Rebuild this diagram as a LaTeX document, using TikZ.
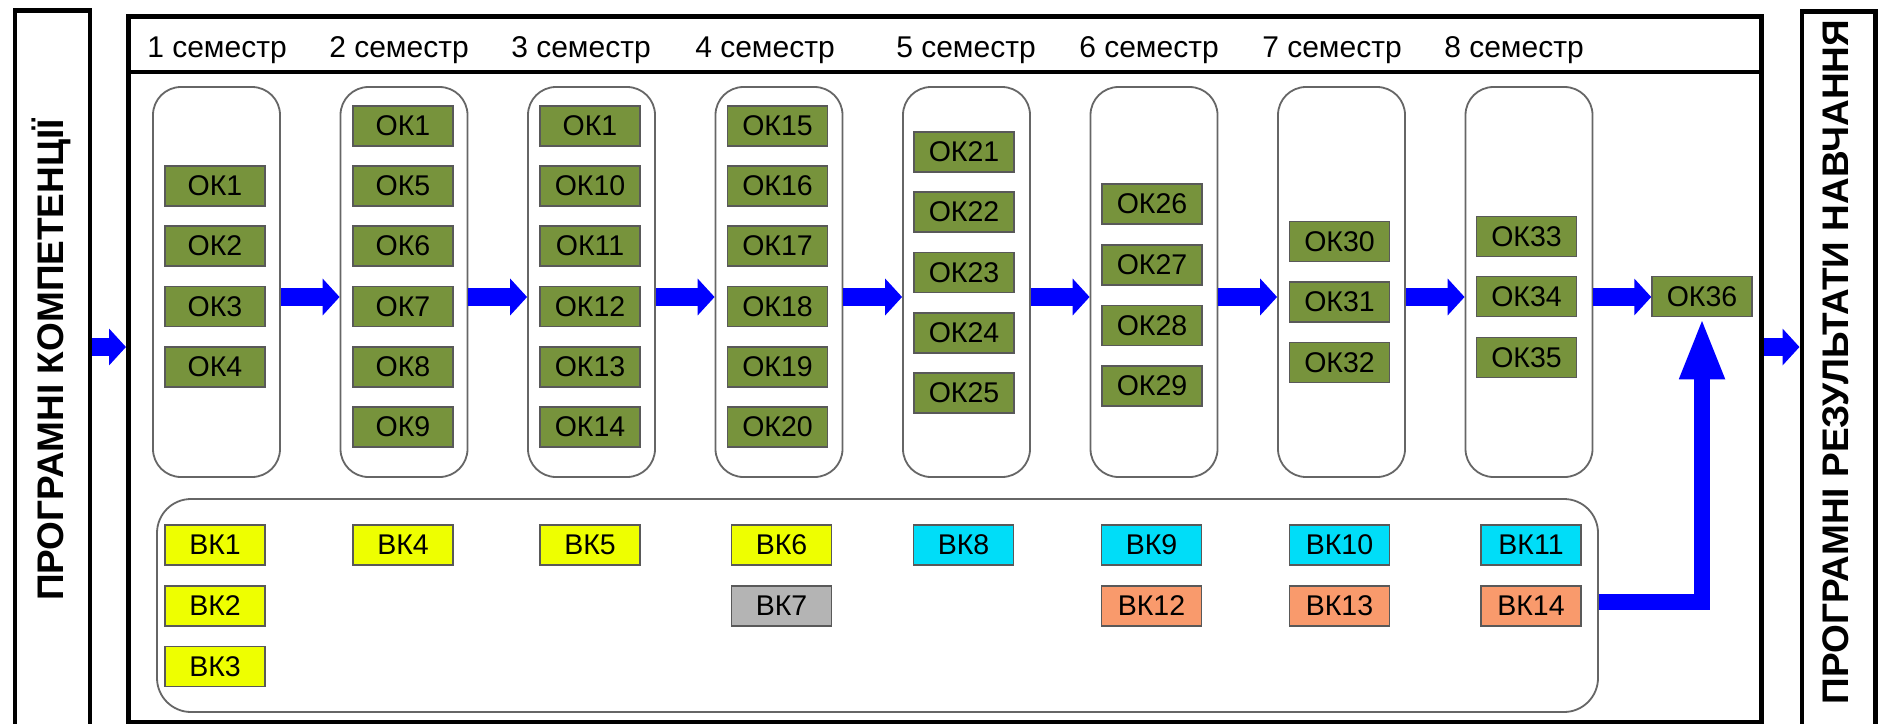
\documentclass[tikz,border=0pt]{standalone}
\usepackage{fontspec}
\setmainfont{Liberation Sans}
\usetikzlibrary{arrows.meta}
\definecolor{okgreen}{HTML}{77933C}
\definecolor{vkyellow}{HTML}{EEFF00}
\definecolor{vkcyan}{HTML}{00DDF8}
\definecolor{vkorange}{HTML}{F99A6C}
\definecolor{vkgrey}{HTML}{B4B4B4}
\definecolor{blockblue}{HTML}{0000FF}
\begin{document}
\begin{tikzpicture}[x=1pt,y=-1pt,
  okbox/.style={draw=black!65, line width=1.5pt, fill=okgreen, minimum width=100pt, minimum height=40pt, inner sep=0pt, font=\fontsize{28.5}{28.5}\selectfont},
  vkbox/.style={okbox, fill=#1},
  sembox/.style={draw=black!60, line width=1.8pt, rounded corners=28pt, minimum width=127pt, minimum height=390pt, inner sep=0pt},
  hdr/.style={font=\fontsize{30}{30}\selectfont, anchor=base},
  thickframe/.style={draw=black, line width=4.5pt, inner sep=0pt, anchor=north west},
  sidetext/.style={font=\bfseries\fontsize{37}{37}\selectfont, rotate=90},
  blockarrow/.style={draw=blockblue, line width=18pt, -{Triangle[length=17pt,width=36pt]}},
]
\useasboundingbox (0,0) rectangle (1879,723);
\clip (0,0) rectangle (1879,723);
\fill[white] (0,0) rectangle (1879,723);

% frames
\node[thickframe, minimum width=75pt, minimum height=740pt] (lbox) at (12.5,8) {};
\node[thickframe, minimum width=1633pt, minimum height=706pt] (main) at (126,14) {};
\node[thickframe, minimum width=73.5pt, minimum height=740pt] (rbox) at (1799.5,9) {};
\coordinate (sepy) at (0,72);
\draw[line width=4pt] (main.west |- sepy) -- (main.east |- sepy);

\node[sidetext] (ltext) at (51,360) {ПРОГРАМНІ КОМПЕТЕНЦІЇ};
\node[sidetext] (rtext) at (1836,362) {ПРОГРАМНІ РЕЗУЛЬТАТИ НАВЧАННЯ};

% headers
\node[hdr] (h1) at (217,57) {1 семестр};
\node[hdr] (h2) at (399,57) {2 семестр};
\node[hdr] (h3) at (581,57) {3 семестр};
\node[hdr] (h4) at (765,57) {4 семестр};
\node[hdr] (h5) at (966,57) {5 семестр};
\node[hdr] (h6) at (1149,57) {6 семестр};
\node[hdr] (h7) at (1332,57) {7 семестр};
\node[hdr] (h8) at (1514,57) {8 семестр};

% semester boxes
\node[sembox] (s1) at (216.5,282) {};
\node[sembox] (s2) at (404,282) {};
\node[sembox] (s3) at (591.5,282) {};
\node[sembox] (s4) at (779,282) {};
\node[sembox] (s5) at (966.5,282) {};
\node[sembox] (s6) at (1154,282) {};
\node[sembox] (s7) at (1341.5,282) {};
\node[sembox] (s8) at (1529,282) {};

% OK boxes
\node[okbox] (c1r1) at (215,186) {ОК1};
\node[okbox] (c1r2) at (215,246) {ОК2};
\node[okbox] (c1r3) at (215,306.5) {ОК3};
\node[okbox] (c1r4) at (215,367) {ОК4};

\node[okbox] (c2r1) at (403,126) {ОК1};
\node[okbox] (c2r2) at (403,186) {ОК5};
\node[okbox] (c2r3) at (403,246) {ОК6};
\node[okbox] (c2r4) at (403,306.5) {ОК7};
\node[okbox] (c2r5) at (403,367) {ОК8};
\node[okbox] (c2r6) at (403,427) {ОК9};

\node[okbox] (c3r1) at (590,126) {ОК1};
\node[okbox] (c3r2) at (590,186) {ОК10};
\node[okbox] (c3r3) at (590,246) {ОК11};
\node[okbox] (c3r4) at (590,306.5) {ОК12};
\node[okbox] (c3r5) at (590,367) {ОК13};
\node[okbox] (c3r6) at (590,427) {ОК14};

\node[okbox] (c4r1) at (777.5,126) {ОК15};
\node[okbox] (c4r2) at (777.5,186) {ОК16};
\node[okbox] (c4r3) at (777.5,246) {ОК17};
\node[okbox] (c4r4) at (777.5,306.5) {ОК18};
\node[okbox] (c4r5) at (777.5,367) {ОК19};
\node[okbox] (c4r6) at (777.5,427) {ОК20};

\node[okbox] (c5r1) at (964,152) {ОК21};
\node[okbox] (c5r2) at (964,212) {ОК22};
\node[okbox] (c5r3) at (964,272.5) {ОК23};
\node[okbox] (c5r4) at (964,333) {ОК24};
\node[okbox] (c5r5) at (964,393) {ОК25};

\node[okbox] (c6r1) at (1152,204) {ОК26};
\node[okbox] (c6r2) at (1152,265) {ОК27};
\node[okbox] (c6r3) at (1152,325.5) {ОК28};
\node[okbox] (c6r4) at (1152,386) {ОК29};

\node[okbox] (c7r1) at (1339.5,241.5) {ОК30};
\node[okbox] (c7r2) at (1339.5,302) {ОК31};
\node[okbox] (c7r3) at (1339.5,362.5) {ОК32};

\node[okbox] (c8r1) at (1526.5,236.5) {ОК33};
\node[okbox] (c8r2) at (1526.5,296.5) {ОК34};
\node[okbox] (c8r3) at (1526.5,357.5) {ОК35};

\node[okbox] (ok36) at (1702,296.5) {ОК36};

% elective block
\node[sembox, minimum width=1441pt, minimum height=213pt, rounded corners=34pt] (vk) at (877.5,605.5) {};

\node[vkbox=vkyellow] (vk1) at (215,545) {ВК1};
\node[vkbox=vkyellow] (vk2) at (215,606) {ВК2};
\node[vkbox=vkyellow] (vk3) at (215,666.5) {ВК3};
\node[vkbox=vkyellow] (vk4) at (403,545) {ВК4};
\node[vkbox=vkyellow] (vk5) at (590,545) {ВК5};
\node[vkbox=vkyellow] (vk6) at (781.5,545) {ВК6};
\node[vkbox=vkgrey] (vk7) at (781.5,606) {ВК7};
\node[vkbox=vkcyan] (vk8) at (963.5,545) {ВК8};
\node[vkbox=vkcyan] (vk9) at (1151.5,545) {ВК9};
\node[vkbox=vkorange] (vk12) at (1151.5,606) {ВК12};
\node[vkbox=vkcyan] (vk10) at (1339.5,545) {ВК10};
\node[vkbox=vkorange] (vk13) at (1339.5,606) {ВК13};
\node[vkbox=vkcyan] (vk11) at (1531,545) {ВК11};
\node[vkbox=vkorange] (vk14) at (1531,606) {ВК14};

% arrows
\coordinate (ay) at (0,297);
\coordinate (ayside) at (0,347);
\draw[blockarrow] (lbox.east |- ayside) -- (main.west |- ayside);
\draw[blockarrow] (main.east |- ayside) -- (rbox.west |- ayside);
\draw[blockarrow] (s1.east |- ay) -- (s2.west |- ay);
\draw[blockarrow] (s2.east |- ay) -- (s3.west |- ay);
\draw[blockarrow] (s3.east |- ay) -- (s4.west |- ay);
\draw[blockarrow] (s4.east |- ay) -- (s5.west |- ay);
\draw[blockarrow] (s5.east |- ay) -- (s6.west |- ay);
\draw[blockarrow] (s6.east |- ay) -- (s7.west |- ay);
\draw[blockarrow] (s7.east |- ay) -- (s8.west |- ay);
\draw[blockarrow] (s8.east |- ay) -- (ok36.west |- ay);

\coordinate (j) at (1702,602);
\draw[draw=blockblue, line width=16pt, line join=miter, -{Triangle[length=62pt,width=41pt]}] (vk.east |- j) -- (j) -- (ok36.south);
\end{tikzpicture}
\end{document}
